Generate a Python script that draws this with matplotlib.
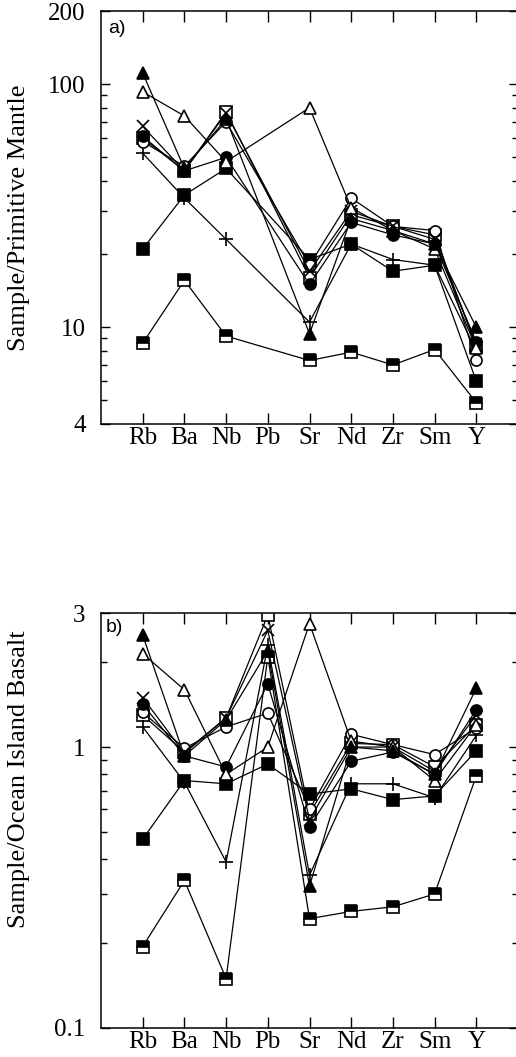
import matplotlib
matplotlib.use("Agg")
import matplotlib.pyplot as plt
import numpy as np

# Element order on the x axis (Pb only has data in panel b)
elements = ["Rb", "Ba", "Nb", "Pb", "Sr", "Nd", "Zr", "Sm", "Y"]
elements_a = ["Rb", "Ba", "Nb", "Sr", "Nd", "Zr", "Sm", "Y"]

# a) Sample / Primitive Mantle
pm_filled_tri = [111, 45, 72, 9.4, 28, 25, 22, 10]
pm_open_tri = [93, 74, 48, 80, 31, 25, 21, 8.2]
pm_cross = [67, 44, 76, 17, 30, 26, 23, 8.5]
pm_filled_circle = [61, 44, 50, 15, 27, 24, 22, 8.7]
pm_open_circle = [58, 46, 70, 18, 34, 26, 25, 7.3]
pm_plus = [52, 34, 23, 10.5, 22, 19, 18, 8.0]
pm_filled_sq = [21, 35, 45, 19, 22, 17, 18, 6.0]
pm_half_sq = [8.6, 15.6, 9.2, 7.3, 7.9, 7.0, 8.1, 4.9]
pm_open_sq = [60, 44, 77, 16, 29, 26, 24, 8.3]

# b) Sample / Ocean Island Basalt
oib_filled_tri = [2.5, 0.93, 1.25, 2.2, 0.32, 1.0, 0.97, 0.8, 1.62]
oib_open_tri = [2.15, 1.6, 0.8, 1.0, 2.75, 1.05, 1.0, 0.76, 1.2]
oib_cross = [1.5, 0.95, 1.27, 2.6, 0.55, 1.0, 1.0, 0.82, 1.3]
oib_filled_circle = [1.42, 0.93, 0.85, 1.68, 0.52, 0.89, 0.96, 0.8, 1.36]
oib_open_circle = [1.33, 0.99, 1.18, 1.32, 0.6, 1.11, 1.02, 0.94, 1.17]
oib_plus = [1.18, 0.75, 0.39, 2.3, 0.35, 0.74, 0.74, 0.66, 1.1]
oib_filled_sq = [0.47, 0.76, 0.74, 0.87, 0.68, 0.71, 0.65, 0.67, 0.97]
oib_half_sq = [0.195, 0.335, 0.15, 2.1, 0.245, 0.26, 0.27, 0.30, 0.79]
oib_open_sq = [1.3, 0.96, 1.27, 2.95, 0.58, 1.03, 1.02, 0.85, 1.2]

# marker styles for each sample
styles = [
    dict(marker="^", mfc="black"),
    dict(marker="^", mfc="white"),
    dict(marker="x", mfc="none", ms=9),
    dict(marker="o", mfc="black"),
    dict(marker="o", mfc="white"),
    dict(marker="+", mfc="none", ms=10),
    dict(marker="s", mfc="black"),
    dict(marker="s", mfc="black", fillstyle="top", markerfacecoloralt="white"),
    dict(marker="s", mfc="white"),
]

series_a = [pm_filled_tri, pm_open_tri, pm_cross, pm_filled_circle, pm_open_circle,
            pm_plus, pm_filled_sq, pm_half_sq, pm_open_sq]
series_b = [oib_filled_tri, oib_open_tri, oib_cross, oib_filled_circle, oib_open_circle,
            oib_plus, oib_filled_sq, oib_half_sq, oib_open_sq]

serif = "Liberation Serif"
sans = "Liberation Sans"

x_all = np.arange(1, len(elements) + 1)
x_a = [x_all[elements.index(e)] for e in elements_a]

fig = plt.figure(figsize=(5.16, 10.57), dpi=100)
W, H = 516, 1057
ax_a = fig.add_axes([101 / W, 1 - 424 / H, 417 / W, 413 / H])
ax_b = fig.add_axes([101 / W, 1 - 1028 / H, 417 / W, 415 / H])


def draw(ax, xs, series):
    # draw back to front so the filled triangle ends up on top
    for vals, st in reversed(list(zip(series, styles))):
        st = dict(st)
        ms = st.pop("ms", 8)
        ax.plot(xs, vals, color="black", lw=0.9, mec="black", mew=1.2,
                ms=ms, **st)


draw(ax_a, x_a, series_a)
draw(ax_b, x_all, series_b)

for ax in (ax_a, ax_b):
    ax.set_yscale("log")
    ax.set_xlim(0, 10)
    ax.set_xticks(x_all)
    ax.set_xticklabels(elements, fontsize=18, family=serif)
    ax.tick_params(axis="x", which="major", direction="in", length=8, width=1,
                   top=True, bottom=True, pad=2)
    ax.tick_params(axis="y", which="major", direction="in", length=6.5, width=1,
                   left=True, right=True, pad=11)
    ax.tick_params(axis="y", which="minor", direction="in", length=4, width=1,
                   left=True, right=True)
    for sp in ax.spines.values():
        sp.set_linewidth(1.1)

# a) axis
ax_a.set_ylim(4, 200)
ax_a.set_yticks([4, 10, 100, 200])
ax_a.set_yticklabels(["4", "10", "100", "200"], family=serif, fontsize=18)
ax_a.set_yticks([5, 6, 7, 8, 9, 20, 30, 40, 50, 60, 70, 80, 90], minor=True)
ax_a.yaxis.set_minor_formatter(matplotlib.ticker.NullFormatter())
ax_a.set_ylabel("Sample/Primitive Mantle", family=serif, fontsize=19)
ax_a.yaxis.set_label_coords(-0.17, 0.5)
ax_a.text(0.018, 0.978, "a)", transform=ax_a.transAxes, va="top", ha="left",
          family=sans, fontsize=14)

# b) axis
ax_b.set_ylim(0.1, 3)
ax_b.set_yticks([0.1, 1, 3])
ax_b.set_yticklabels(["0.1", "1", "3"], family=serif, fontsize=18)
ax_b.set_yticks([0.2, 0.3, 0.4, 0.5, 0.6, 0.7, 0.8, 0.9, 2], minor=True)
ax_b.yaxis.set_minor_formatter(matplotlib.ticker.NullFormatter())
ax_b.set_ylabel("Sample/Ocean Island Basalt", family=serif, fontsize=19)
ax_b.yaxis.set_label_coords(-0.17, 0.6)
ax_b.text(0.012, 0.985, "b)", transform=ax_b.transAxes, va="top", ha="left",
          family=sans, fontsize=14)

fig.savefig("out.png", dpi=100)
